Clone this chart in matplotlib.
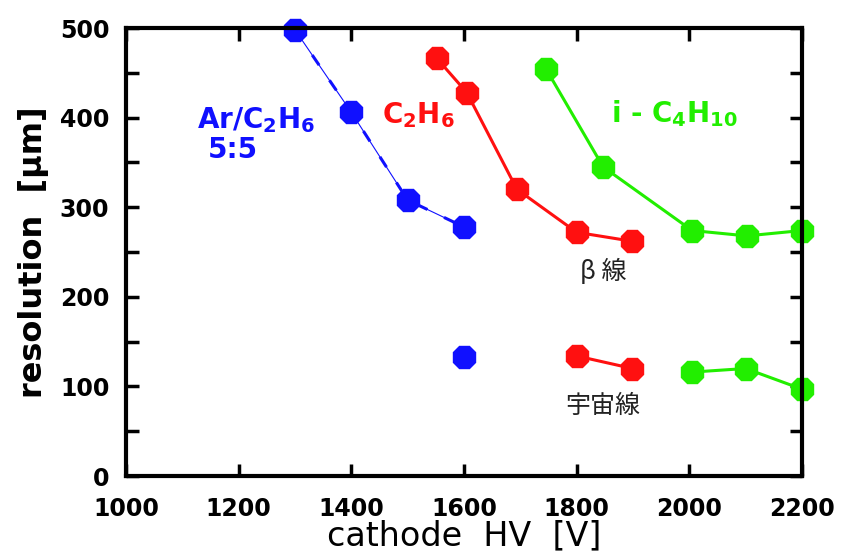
import numpy as np
import matplotlib.pyplot as plt

# Ar/C2H6 5:5 (blue)
ar_hv = [1300, 1400, 1500, 1600]
ar_res = [498, 406, 308, 278]
ar_cosmic_hv = [1600]
ar_cosmic_res = [133]

# C2H6 (red)
c2_hv = [1552, 1605, 1694, 1800, 1899]
c2_res = [466, 428, 320, 272, 262]
c2_cosmic_hv = [1800, 1899]
c2_cosmic_res = [134, 120]

# i-C4H10 (green)
c4_hv = [1746, 1847, 2005, 2102, 2200]
c4_res = [454, 345, 274, 268, 274]
c4_cosmic_hv = [2005, 2100, 2200]
c4_cosmic_res = [116, 120, 97]

blue = "#1010ff"
red = "#ff1010"
green = "#22ee00"

fig = plt.figure(figsize=(8.41, 5.55), dpi=100)
ax = fig.add_axes([0.1498, 0.1423, 0.8038, 0.8072])

ms = 17
# blue: thin line with thick dashes on top
ax.plot(ar_hv, ar_res, color=blue, lw=0.8, clip_on=False)
ax.plot(ar_hv, ar_res, color=blue, lw=2.2, ls=(0, (4, 6)), clip_on=False)
ax.plot(ar_hv, ar_res, ls="none", marker="8", ms=ms, color=blue, clip_on=False)
ax.plot(ar_cosmic_hv, ar_cosmic_res, ls="none", marker="8", ms=ms, color=blue, clip_on=False)

ax.plot(c2_hv, c2_res, color=red, lw=2.2, marker="8", ms=ms, clip_on=False)
ax.plot(c2_cosmic_hv, c2_cosmic_res, color=red, lw=2.2, marker="8", ms=ms, clip_on=False)

ax.plot(c4_hv, c4_res, color=green, lw=2.2, marker="8", ms=ms, clip_on=False)
ax.plot(c4_cosmic_hv, c4_cosmic_res, color=green, lw=2.2, marker="8", ms=ms, clip_on=False)

ax.set_xlim(1000, 2200)
ax.set_ylim(0, 500)
ax.set_xticks(np.arange(1000, 2201, 200))
ax.set_yticks(np.arange(0, 501, 100))
ax.set_yticks(np.arange(50, 500, 100), minor=True)

for s in ax.spines.values():
    s.set_linewidth(3)
ax.tick_params(which="both", direction="in", top=True, right=True, width=2.5, length=9)
ax.tick_params(axis="x", pad=15)
ax.tick_params(axis="y", pad=12)
for lab in ax.get_xticklabels() + ax.get_yticklabels():
    lab.set_fontsize(17)
    lab.set_fontweight("bold")
    lab.set_family("Liberation Sans Narrow")

ax.set_xlabel("cathode  HV  [V]", fontsize=24, family="DejaVu Sans", labelpad=-1)
ax.set_ylabel("resolution  [μm]", fontsize=23, fontweight="bold", family="DejaVu Sans", labelpad=8)

ax.text(1231, 397, r"Ar/C$_\mathbf{2}$H$_\mathbf{6}$", color=blue, fontsize=20, fontweight="bold", ha="center", va="center")
ax.text(1190, 364, "5:5", color=blue, fontsize=20, fontweight="bold", ha="center", va="center")
ax.text(1519, 403, r"C$_\mathbf{2}$H$_\mathbf{6}$", color=red, fontsize=20, fontweight="bold", ha="center", va="center")
ax.text(1973, 405, r"i - C$_\mathbf{4}$H$_\mathbf{10}$", color=green, fontsize=20, fontweight="bold", ha="center", va="center")

jp = ["Noto Sans CJK JP", "DejaVu Sans"]
ax.text(1847, 228, "β 線", color="#222222", fontsize=18, family=jp, ha="center", va="center")
ax.text(1847, 78, "宇宙線", color="#222222", fontsize=18, family=jp, ha="center", va="center")

fig.savefig("out.png", dpi=100)
